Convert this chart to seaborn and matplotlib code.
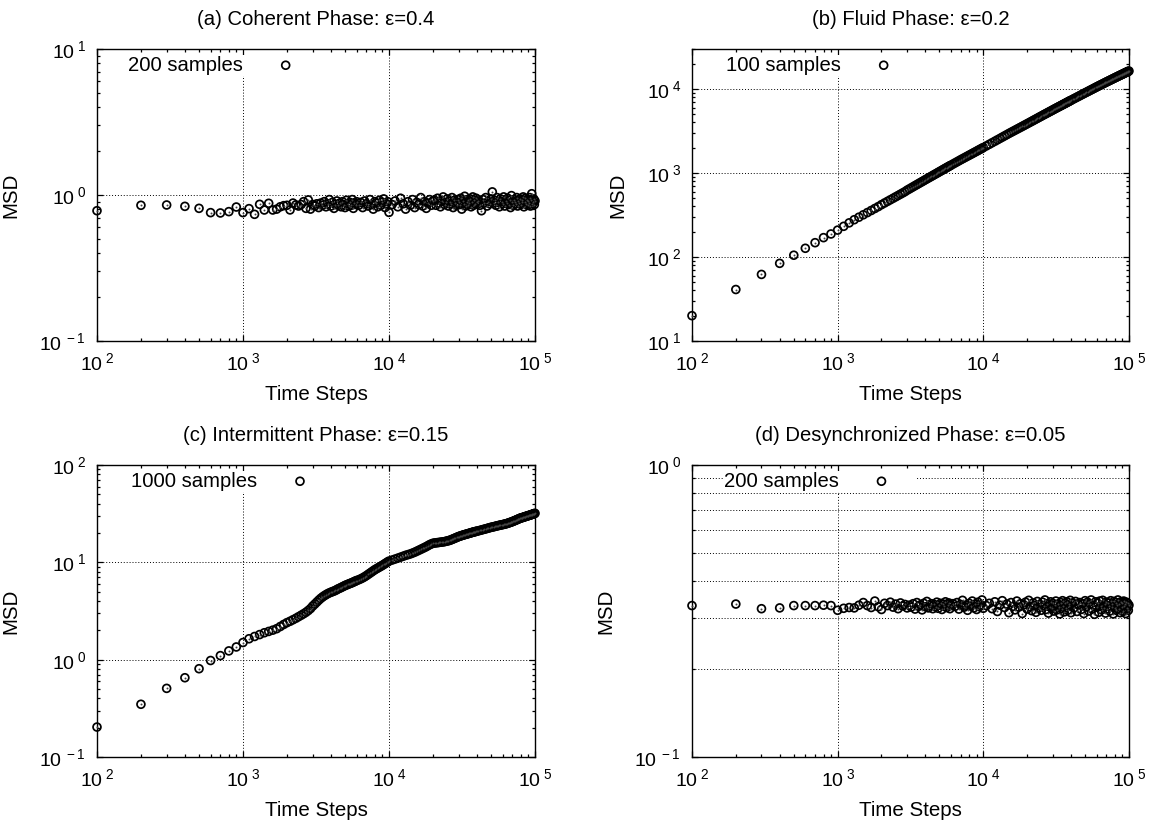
import numpy as np
import matplotlib
matplotlib.use("Agg")
import matplotlib.pyplot as plt
import matplotlib.ticker as mticker
import seaborn as sns

# ---------------- data ----------------
time_steps = [100, 200, 300, 400, 500, 600, 700, 800, 900, 1000,
              1100, 1200, 1300, 1400, 1500, 1600, 1700, 1800, 1900, 2000,
              2100, 2200, 2300, 2400, 2500, 2600, 2700, 2800, 2900, 3000,
              3100, 3200, 3300, 3400, 3500, 3600, 3700, 3800, 3900, 4000,
              4100, 4200, 4300, 4400, 4500, 4600, 4700, 4800, 4900, 5000,
              5100, 5200, 5300, 5400, 5500, 5600, 5700, 5800, 5900, 6000,
              6200, 6400, 6600, 6800, 7000, 7200, 7400, 7600, 7800, 8000,
              8200, 8400, 8600, 8800, 9000, 9200, 9400, 9600, 9800, 10000,
              10500, 11000, 11500, 12000, 12500, 13000, 13500, 14000, 14500, 15000,
              15500, 16000, 16500, 17000, 17500, 18000, 18500, 19000, 19500, 20000,
              20500, 21000, 21500, 22000, 22500, 23000, 23500, 24000, 24500, 25000,
              25500, 26000, 26500, 27000, 27500, 28000, 28500, 29000, 29500, 30000,
              30500, 31000, 31500, 32000, 32500, 33000, 33500, 34000, 34500, 35000,
              35500, 36000, 36500, 37000, 37500, 38000, 38500, 39000, 39500, 40000,
              41000, 42000, 43000, 44000, 45000, 46000, 47000, 48000, 49000, 50000,
              51000, 52000, 53000, 54000, 55000, 56000, 57000, 58000, 59000, 60000,
              61000, 62000, 63000, 64000, 65000, 66000, 67000, 68000, 69000, 70000,
              71000, 72000, 73000, 74000, 75000, 76000, 77000, 78000, 79000, 80000,
              81000, 82000, 83000, 84000, 85000, 86000, 87000, 88000, 89000, 90000,
              91000, 92000, 93000, 94000, 95000, 96000, 97000, 98000, 99000, 100000]

msd_coherent = [0.78, 0.85, 0.854, 0.836, 0.81, 0.757, 0.753, 0.769, 0.827, 0.757,
                0.806, 0.737, 0.863, 0.789, 0.877, 0.789, 0.80, 0.83, 0.845, 0.85,
                0.79, 0.88, 0.855, 0.84, 0.86, 0.90, 0.81, 0.925, 0.80, 0.86,
                0.84, 0.87, 0.82, 0.88, 0.85, 0.90, 0.83, 0.87, 0.93, 0.84,
                0.89, 0.81, 0.86, 0.91, 0.85, 0.88, 0.83, 0.90, 0.86, 0.82,
                0.92, 0.87, 0.84, 0.89, 0.85, 0.93, 0.81, 0.88, 0.86, 0.90,
                0.85, 0.89, 0.82, 0.91, 0.87, 0.84, 0.93, 0.86, 0.80, 0.90,
                0.88, 0.83, 0.92, 0.85, 0.89, 0.94, 0.82, 0.87, 0.90, 0.76,
                0.86, 0.91, 0.83, 0.95, 0.87, 0.80, 0.90, 0.85, 0.93, 0.82,
                0.89, 0.86, 0.96, 0.84, 0.90, 0.81, 0.88, 0.93, 0.85, 0.91,
                0.92, 0.85, 0.95, 0.88, 0.83, 0.91, 0.97, 0.86, 0.89, 0.94,
                0.84, 0.90, 0.87, 0.96, 0.82, 0.92, 0.88, 0.85, 0.93, 0.89,
                0.86, 0.95, 0.80, 0.91, 0.87, 0.98, 0.84, 0.90, 0.93, 0.86,
                0.88, 0.94, 0.83, 0.90, 0.97, 0.85, 0.92, 0.87, 0.95, 0.89,
                0.91, 0.85, 0.78, 0.93, 0.88, 0.96, 0.84, 0.90, 0.87, 0.94,
                1.05, 0.88, 0.92, 0.85, 0.96, 0.89, 0.83, 0.94, 0.90, 0.87,
                0.97, 0.84, 0.91, 0.88, 0.95, 0.86, 0.92, 0.82, 0.99, 0.89,
                0.85, 0.93, 0.90, 0.87, 0.96, 0.84, 0.91, 0.88, 0.94, 0.86,
                0.92, 0.89, 0.97, 0.83, 0.90, 0.95, 0.87, 0.93, 0.85, 0.91,
                0.88, 0.96, 0.84, 0.92, 1.02, 0.87, 0.90, 0.94, 0.86, 0.91]

msd_fluid = [20, 41, 62, 84, 105, 127, 148, 170, 188, 209,
             232, 255, 278, 298, 318, 338, 358, 378, 398, 420,
             440, 460, 480, 500, 520, 540, 560, 580, 600, 625,
             645, 666, 687, 708, 728, 749, 770, 790, 811, 832,
             852, 873, 893, 914, 934, 955, 975, 996, 1016, 1037,
             1057, 1078, 1098, 1119, 1139, 1160, 1180, 1200, 1220, 1240,
             1280, 1320, 1360, 1400, 1440, 1478, 1516, 1554, 1592, 1630,
             1668, 1706, 1744, 1782, 1820, 1858, 1896, 1934, 1972, 2010,
             2105, 2200, 2295, 2390, 2485, 2580, 2675, 2770, 2865, 2960,
             3050, 3140, 3230, 3320, 3410, 3500, 3590, 3680, 3770, 3860,
             3950, 4040, 4130, 4220, 4310, 4400, 4490, 4580, 4670, 4760,
             4850, 4940, 5030, 5115, 5200, 5290, 5380, 5465, 5550, 5640,
             5730, 5815, 5900, 5990, 6075, 6160, 6245, 6330, 6415, 6500,
             6585, 6670, 6755, 6840, 6925, 7010, 7095, 7180, 7265, 7350,
             7520, 7690, 7850, 8020, 8180, 8345, 8510, 8675, 8840, 9000,
             9160, 9320, 9480, 9640, 9800, 9960, 10120, 10280, 10440, 10600,
             10755, 10910, 11065, 11220, 11370, 11520, 11675, 11830, 11980, 12130,
             12280, 12425, 12575, 12720, 12870, 13015, 13165, 13310, 13455, 13600,
             13745, 13890, 14030, 14175, 14320, 14460, 14600, 14740, 14880, 15020,
             15160, 15300, 15440, 15580, 15720, 15855, 15990, 16125, 16260, 16400]

msd_intermittent = [0.203, 0.348, 0.507, 0.652, 0.807, 0.98, 1.10, 1.23, 1.35, 1.50,
                    1.64, 1.73, 1.81, 1.89, 1.95, 2.01, 2.08, 2.19, 2.30, 2.40,
                    2.48, 2.57, 2.66, 2.76, 2.86, 2.96, 3.07, 3.20, 3.35, 3.55,
                    3.72, 3.90, 4.08, 4.25, 4.40, 4.53, 4.65, 4.76, 4.85, 4.93,
                    5.00, 5.07, 5.15, 5.25, 5.35, 5.43, 5.51, 5.60, 5.69, 5.78,
                    5.85, 5.92, 5.99, 6.06, 6.12, 6.19, 6.27, 6.35, 6.42, 6.50,
                    6.62, 6.76, 6.92, 7.10, 7.30, 7.52, 7.74, 7.96, 8.18, 8.40,
                    8.58, 8.76, 8.94, 9.12, 9.30, 9.50, 9.70, 9.90, 10.1, 10.3,
                    10.55, 10.8, 11.05, 11.3, 11.55, 11.8, 12.0, 12.2, 12.45, 12.7,
                    13.0, 13.3, 13.6, 13.9, 14.2, 14.5, 14.85, 15.2, 15.45, 15.7,
                    15.8, 15.85, 15.95, 16.0, 16.1, 16.15, 16.25, 16.3, 16.45, 16.55,
                    16.7, 16.8, 17.0, 17.2, 17.4, 17.6, 17.8, 18.0, 18.2, 18.4,
                    18.55, 18.7, 18.85, 19.0, 19.15, 19.25, 19.4, 19.5, 19.65, 19.75,
                    19.9, 20.0, 20.15, 20.25, 20.4, 20.5, 20.6, 20.7, 20.8, 20.9,
                    21.1, 21.3, 21.5, 21.7, 21.9, 22.1, 22.3, 22.5, 22.7, 22.9,
                    23.05, 23.2, 23.35, 23.55, 23.7, 23.85, 24.0, 24.15, 24.3, 24.4,
                    24.55, 24.7, 24.85, 25.0, 25.2, 25.4, 25.6, 25.8, 26.0, 26.2,
                    26.45, 26.7, 26.9, 27.15, 27.4, 27.65, 27.9, 28.1, 28.35, 28.6,
                    28.7, 28.85, 29.0, 29.2, 29.4, 29.55, 29.7, 29.85, 30.05, 30.2,
                    30.35, 30.5, 30.65, 30.85, 31.0, 31.2, 31.35, 31.55, 31.7, 31.9]

msd_desync = [0.330, 0.334, 0.322, 0.324, 0.330, 0.330, 0.330, 0.331, 0.330, 0.318,
              0.323, 0.325, 0.324, 0.331, 0.338, 0.330, 0.325, 0.342, 0.327, 0.320,
              0.336, 0.330, 0.339, 0.326, 0.334, 0.322, 0.337, 0.329, 0.333, 0.324,
              0.331, 0.326, 0.335, 0.321, 0.338, 0.328, 0.332, 0.319, 0.336, 0.327,
              0.341, 0.324, 0.330, 0.335, 0.322, 0.333, 0.327, 0.339, 0.323, 0.331,
              0.336, 0.320, 0.334, 0.328, 0.340, 0.325, 0.332, 0.337, 0.322, 0.330,
              0.335, 0.328, 0.338, 0.321, 0.333, 0.344, 0.326, 0.331, 0.318, 0.336,
              0.329, 0.342, 0.324, 0.334, 0.320, 0.339, 0.327, 0.332, 0.345, 0.323,
              0.330, 0.336, 0.322, 0.340, 0.315, 0.331, 0.343, 0.325, 0.334, 0.312,
              0.338, 0.328, 0.319, 0.342, 0.326, 0.335, 0.310, 0.332, 0.339, 0.321,
              0.344, 0.327, 0.317, 0.337, 0.330, 0.313, 0.341, 0.324, 0.333, 0.318,
              0.339, 0.329, 0.345, 0.320, 0.335, 0.311, 0.327, 0.340, 0.323, 0.336,
              0.316, 0.331, 0.342, 0.319, 0.334, 0.326, 0.309, 0.338, 0.322, 0.343,
              0.328, 0.314, 0.336, 0.325, 0.340, 0.318, 0.333, 0.329, 0.344, 0.312,
              0.337, 0.324, 0.341, 0.315, 0.332, 0.338, 0.320, 0.335, 0.310, 0.343,
              0.327, 0.339, 0.316, 0.334, 0.345, 0.321, 0.331, 0.308, 0.340, 0.326,
              0.336, 0.313, 0.342, 0.328, 0.319, 0.344, 0.325, 0.333, 0.311, 0.339,
              0.322, 0.337, 0.330, 0.316, 0.343, 0.327, 0.334, 0.309, 0.341, 0.324,
              0.338, 0.318, 0.332, 0.345, 0.321, 0.335, 0.312, 0.340, 0.326, 0.337,
              0.315, 0.342, 0.329, 0.333, 0.310, 0.339, 0.323, 0.336, 0.318, 0.331]

titles = ["(a) Coherent Phase: \u03b5=0.4", "(b) Fluid Phase: \u03b5=0.2",
          "(c) Intermittent Phase: \u03b5=0.15", "(d) Desynchronized Phase: \u03b5=0.05"]
legend_labels = ["200 samples", "100 samples", "1000 samples", "200 samples"]
y_limits = [(0.1, 10), (10, 30000), (0.1, 100), (0.1, 1)]
x_limits = (100, 100000)
x_label = "Time Steps"
y_label = "MSD"

series = [msd_coherent, msd_fluid, msd_intermittent, msd_desync]
for s_ in series:
    assert len(s_) == len(time_steps), len(s_)

# ---------------- style ----------------
sns.set_style("ticks")
plt.rcParams["font.family"] = ["Liberation Sans", "DejaVu Sans"]
plt.rcParams["mathtext.fontset"] = "custom"
plt.rcParams["mathtext.rm"] = "Liberation Sans"
plt.rcParams["mathtext.it"] = "Liberation Sans:italic"
plt.rcParams["mathtext.bf"] = "Liberation Sans:bold"
for key in ["text.color", "axes.labelcolor", "xtick.color", "ytick.color",
            "xtick.labelcolor", "ytick.labelcolor", "axes.edgecolor"]:
    plt.rcParams[key] = "black"

fig = plt.figure(figsize=(11.56, 8.22), dpi=100)
rects = [[0.0839, 0.5852, 0.3789, 0.3552],
         [0.5986, 0.5852, 0.3780, 0.3552],
         [0.0839, 0.0791, 0.3789, 0.3552],
         [0.5986, 0.0791, 0.3780, 0.3552]]
legend_x = [0.069, 0.076, 0.076, 0.071]


def log_fmt(v, pos):
    e = int(round(np.log10(v)))
    return r"$\mathregular{10^{\;%d}}$" % e


for i, (rect, m) in enumerate(zip(rects, series)):
    ax = fig.add_axes(rect)
    sns.scatterplot(x=time_steps, y=m, ax=ax, s=32, marker="o", facecolors="none",
                    edgecolor="black", linewidth=1.25, label=legend_labels[i],
                    clip_on=False, zorder=3)
    sns.scatterplot(x=time_steps, y=m, ax=ax, s=2.0, marker="o", color="#444444",
                    linewidth=0, clip_on=False, zorder=4, legend=False)
    ax.set_xscale("log")
    ax.set_yscale("log")
    ax.set_xlim(*x_limits)
    ax.set_ylim(*y_limits[i])
    ax.xaxis.set_major_locator(mticker.LogLocator(base=10, numticks=10))
    ax.yaxis.set_major_locator(mticker.LogLocator(base=10, numticks=10))
    ax.xaxis.set_minor_locator(mticker.LogLocator(base=10, subs=np.arange(2, 10), numticks=20))
    ax.yaxis.set_minor_locator(mticker.LogLocator(base=10, subs=np.arange(2, 10), numticks=20))
    ax.xaxis.set_major_formatter(mticker.FuncFormatter(log_fmt))
    ax.yaxis.set_major_formatter(mticker.FuncFormatter(log_fmt))
    ax.xaxis.set_minor_formatter(mticker.NullFormatter())
    ax.yaxis.set_minor_formatter(mticker.NullFormatter())
    ax.tick_params(which="both", direction="in", top=True, right=True,
                   width=0.9, color="black", labelsize=14, pad=8)
    ax.tick_params(which="major", length=4.5)
    ax.tick_params(which="minor", length=2.5)
    for sp in ax.spines.values():
        sp.set_visible(True)
        sp.set_linewidth(1.0)
        sp.set_color("black")
    grid_kw = dict(color="black", linestyle=(0, (1, 2)), linewidth=0.7)
    ax.grid(True, which="major", axis="both", **grid_kw)
    if i == 3:
        ax.grid(True, which="minor", axis="y", **grid_kw)
    ax.set_title(titles[i], fontsize=14.6, pad=17)
    ax.set_xlabel(x_label, fontsize=14.8, labelpad=8)
    ax.set_ylabel(y_label, fontsize=14.8, labelpad=14)
    ax.legend(loc="center left", bbox_to_anchor=(legend_x[i], 0.945),
              borderaxespad=0, markerfirst=False, frameon=True,
              facecolor="white", edgecolor="none", framealpha=1,
              fancybox=False, borderpad=0.05, handlelength=3.4,
              handletextpad=0.4, scatterpoints=1, fontsize=14.6)

fig.savefig("out.png", dpi=100)
